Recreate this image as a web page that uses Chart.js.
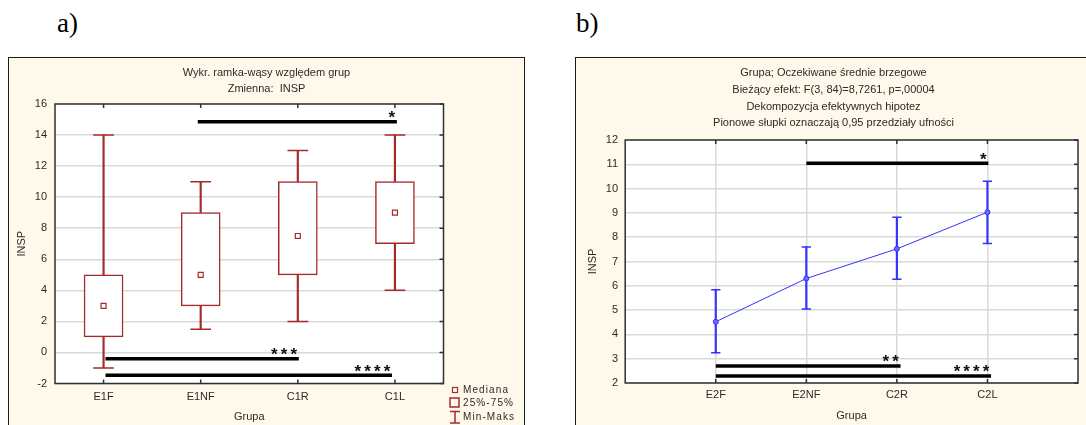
<!DOCTYPE html>
<html>
<head>
<meta charset="utf-8">
<script src="https://cdn.jsdelivr.net/npm/chart.js@4.4.1/dist/chart.umd.min.js"></script>
<style>
  body { margin: 0; width: 1086px; height: 425px; overflow: hidden; background: #fff; position: relative; }
  .lbl { position: absolute; top: 10px; font: 27px/27px "Liberation Serif", "Times New Roman", serif; color: #000; }
  .panel { position: absolute; top: 57px; width: 515px; height: 380px; border: 1px solid #1a1a1a; background: #fff9ec; }
  .panel canvas { display: block; }
</style>
</head>
<body>
<div class="lbl" style="left:57px">a)</div>
<div class="lbl" style="left:576px">b)</div>
<div class="panel" style="left:8px"><canvas id="boxChart" width="515" height="380"></canvas></div>
<div class="panel" style="left:575px"><canvas id="meanChart" width="515" height="380"></canvas></div>

<script>
const FONT = '"Liberation Sans", Arial, sans-serif';
const TEXT = '#2a2a2a';
const RED = '#a52a2a';
const BLUE = '#3333ff';
const GRID = '#d9d9d9';

// a) box & whisker per group
const groupsA = ['E1F', 'E1NF', 'C1R', 'C1L'];
const minA = [-1, 1.5, 2, 4];
const q1A = [1, 3, 5, 7];
const medianA = [3, 5, 7.5, 9];
const q3A = [5, 9, 11, 11];
const maxA = [14, 11, 13, 14];
const titleA = ['Wykr. ramka-wąsy względem grup', 'Zmienna:  INSP'];
// significance bars (group index from/to, height, stars)
const sigFromA = [0.97, 0.02, 0.02];
const sigToA = [3.02, 2.01, 2.97];
const sigYA = [14.86, -0.4, -1.47];
const sigStarsA = ['*', '***', '****'];

// b) marginal means with 0.95 CI
const groupsB = ['E2F', 'E2NF', 'C2R', 'C2L'];
const meanB = [4.52, 6.30, 7.52, 9.03];
const ciLowB = [3.24, 5.05, 6.27, 7.74];
const ciHighB = [5.84, 7.60, 8.82, 10.30];
const titleB = [
    'Grupa; Oczekiwane średnie brzegowe',
    'Bieżący efekt: F(3, 84)=8,7261, p=,00004',
    'Dekompozycja efektywnych hipotez',
    'Pionowe słupki oznaczają 0,95 przedziały ufności'
];
const sigFromB = [2.0, 1.0, 1.0];
const sigToB = [4.01, 3.04, 4.04];
const sigYB = [11.04, 2.70, 2.29];
const sigStarsB = ['*', '**', '****'];

// white plot area, frame, inner ticks, titles, stars, legend
const panelPlugin = {
    id: 'panel',
    beforeDraw(chart) {
        const { ctx, chartArea: a } = chart;
        ctx.save();
        ctx.fillStyle = '#fff';
        ctx.fillRect(a.left, a.top, a.right - a.left, a.bottom - a.top);
        ctx.restore();
    },
    afterDraw(chart, args, opts) {
        const { ctx, chartArea: a, scales: { x, y } } = chart;
        ctx.save();
        ctx.strokeStyle = '#303030';
        ctx.lineWidth = 1.5;
        ctx.strokeRect(a.left, a.top, a.right - a.left, a.bottom - a.top);

        ctx.beginPath();
        x.ticks.forEach(t => {
            const px = x.getPixelForValue(t.value);
            ctx.moveTo(px, a.top); ctx.lineTo(px, a.top + 4);
            ctx.moveTo(px, a.bottom); ctx.lineTo(px, a.bottom - 4);
        });
        y.ticks.forEach(t => {
            const py = y.getPixelForValue(t.value);
            ctx.moveTo(a.right, py); ctx.lineTo(a.right - 4, py);
        });
        ctx.stroke();

        ctx.fillStyle = TEXT;
        ctx.font = `11px ${FONT}`;
        ctx.textAlign = 'center';
        ctx.textBaseline = 'middle';
        opts.titles.forEach((t, i) => ctx.fillText(t, chart.width / 2, opts.titleTop + i * opts.titleStep));

        ctx.fillStyle = '#111';
        ctx.font = `bold 17px ${FONT}`;
        ctx.textBaseline = 'alphabetic';
        opts.sigTo.forEach((to, i) => {
            const px = x.getPixelForValue(to);
            const py = y.getPixelForValue(opts.sigY[i]);
            const n = opts.sigStars[i].length;
            for (let k = 0; k < n; k++) {
                ctx.fillText('*', px - 5 - (n - 1 - k) * 9.7, py + 1.4);
            }
        });

        if (opts.legend) {
            const lx = 441;
            ctx.strokeStyle = RED;
            ctx.fillStyle = '#fff';
            ctx.lineWidth = 1.2;
            ctx.fillRect(lx + 2.5, 329.5, 5, 5);
            ctx.strokeRect(lx + 2.5, 329.5, 5, 5);
            ctx.lineWidth = 1.5;
            ctx.strokeRect(lx, 340, 9, 9);
            ctx.beginPath();
            ctx.moveTo(lx + 5, 353.5); ctx.lineTo(lx + 5, 365);
            ctx.moveTo(lx, 353.5); ctx.lineTo(lx + 10, 353.5);
            ctx.moveTo(lx, 365); ctx.lineTo(lx + 10, 365);
            ctx.stroke();
            ctx.fillStyle = TEXT;
            ctx.font = `10px ${FONT}`;
            ctx.letterSpacing = '1.1px';
            ctx.textAlign = 'left';
            ctx.textBaseline = 'middle';
            ctx.fillText('Mediana', lx + 13, 332);
            ctx.fillText('25%-75%', lx + 13, 345);
            ctx.fillText('Min-Maks', lx + 13, 359);
        }
        ctx.restore();
    }
};

function sigLines(from, to, ys) {
    return from.map((f, i) => ({
        type: 'line',
        data: [{ x: f, y: ys[i] }, { x: to[i], y: ys[i] }],
        borderColor: '#000',
        borderWidth: 3.5,
        borderCapStyle: 'butt',
        pointRadius: 0,
        order: 0
    }));
}

function axisFont() {
    return { family: FONT, size: 11 };
}

// a) box plot
new Chart(document.getElementById('boxChart'), {
    type: 'bar',
    data: {
        datasets: [
            ...sigLines(sigFromA, sigToA, sigYA),
            {
                type: 'line',
                showLine: false,
                data: medianA.map((v, i) => ({ x: i, y: v })),
                pointStyle: 'rect',
                pointRadius: 3.5,
                pointBackgroundColor: '#fff',
                pointBorderColor: RED,
                pointBorderWidth: 1.2,
                order: 1
            },
            {
                data: q1A.map((v, i) => ({ x: i, y: [v, q3A[i]] })),
                backgroundColor: '#fff',
                borderColor: RED,
                borderWidth: 1.5,
                borderSkipped: false,
                barThickness: 39,
                grouped: false,
                order: 2
            },
            {
                type: 'line',
                showLine: false,
                data: [...minA.map((v, i) => ({ x: i, y: v })), ...maxA.map((v, i) => ({ x: i, y: v }))],
                pointStyle: 'line',
                pointRadius: 10.35,
                pointBorderColor: RED,
                pointBorderWidth: 1.5,
                order: 3
            },
            {
                data: minA.map((v, i) => ({ x: i, y: [v, maxA[i]] })),
                backgroundColor: RED,
                borderWidth: 0,
                barThickness: 1.5,
                grouped: false,
                order: 4
            }
        ]
    },
    options: {
        responsive: false,
        animation: false,
        events: [],
        layout: { padding: { top: 46, left: 0, right: 80.5, bottom: 14.5 } },
        plugins: {
            legend: { display: false },
            tooltip: { enabled: false },
            panel: {
                titles: titleA, titleTop: 14.7, titleStep: 16.3,
                sigTo: sigToA, sigY: sigYA, sigStars: sigStarsA,
                legend: true
            }
        },
        scales: {
            x: {
                type: 'linear',
                min: -0.5,
                max: 3.5,
                offset: false,
                grid: { display: false, drawTicks: false, offset: false },
                border: { display: false },
                afterBuildTicks: s => { s.ticks = groupsA.map((g, i) => ({ value: i })); },
                ticks: {
                    autoSkip: false, maxRotation: 0,
                    padding: 7.2, color: TEXT, font: axisFont(),
                    callback: v => groupsA[v] ?? ''
                },
                title: { display: true, text: 'Grupa', color: TEXT, font: axisFont(), padding: { top: 0, bottom: 0.2 } },
                afterFit: s => { s.height = 40; }
            },
            y: {
                min: -2,
                max: 16,
                grid: { color: GRID, lineWidth: 1.5, drawTicks: false },
                border: { display: false },
                ticks: { stepSize: 2, padding: 8, color: TEXT, font: axisFont() },
                title: { display: true, text: 'INSP', color: TEXT, font: axisFont(), padding: { top: 6.8, bottom: 0 } },
                afterFit: s => { s.width = 46; }
            }
        }
    },
    plugins: [panelPlugin]
});

// b) means with confidence intervals
new Chart(document.getElementById('meanChart'), {
    type: 'bar',
    data: {
        datasets: [
            ...sigLines(sigFromB, sigToB, sigYB),
            {
                type: 'line',
                data: meanB.map((v, i) => ({ x: i + 1, y: v })),
                borderColor: BLUE,
                borderWidth: 1,
                pointRadius: 2.5,
                pointBackgroundColor: '#6a6aff',
                pointBorderColor: BLUE,
                pointBorderWidth: 1,
                order: 1
            },
            {
                type: 'line',
                showLine: false,
                data: [...ciLowB.map((v, i) => ({ x: i + 1, y: v })), ...ciHighB.map((v, i) => ({ x: i + 1, y: v }))],
                pointStyle: 'line',
                pointRadius: 4.65,
                pointBorderColor: BLUE,
                pointBorderWidth: 1.5,
                order: 2
            },
            {
                data: ciLowB.map((v, i) => ({ x: i + 1, y: [v, ciHighB[i]] })),
                backgroundColor: BLUE,
                borderWidth: 0,
                barThickness: 1.5,
                grouped: false,
                order: 3
            }
        ]
    },
    options: {
        responsive: false,
        animation: false,
        events: [],
        layout: { padding: { top: 82, left: 0, right: 13, bottom: 15 } },
        plugins: {
            legend: { display: false },
            tooltip: { enabled: false },
            panel: {
                titles: titleB, titleTop: 14.7, titleStep: 16.9,
                sigTo: sigToB, sigY: sigYB, sigStars: sigStarsB,
                legend: false
            }
        },
        scales: {
            x: {
                type: 'linear',
                min: 0,
                max: 5,
                offset: false,
                grid: { color: GRID, lineWidth: 1.5, drawTicks: false, offset: false },
                border: { display: false },
                afterBuildTicks: s => { s.ticks = groupsB.map((g, i) => ({ value: i + 1 })); },
                ticks: {
                    autoSkip: false, maxRotation: 0,
                    padding: 5.1, color: TEXT, font: axisFont(),
                    callback: v => groupsB[v - 1] ?? ''
                },
                title: { display: true, text: 'Grupa', color: TEXT, font: axisFont(), padding: { top: 0, bottom: 0.4 } },
                afterFit: s => { s.height = 40; }
            },
            y: {
                min: 2,
                max: 12,
                grid: { color: GRID, lineWidth: 1.5, drawTicks: false },
                border: { display: false },
                ticks: { stepSize: 1, padding: 7.2, color: TEXT, font: axisFont() },
                title: { display: true, text: 'INSP', color: TEXT, font: axisFont(), padding: { top: 9.9, bottom: 0 } },
                afterFit: s => { s.width = 49.2; }
            }
        }
    },
    plugins: [panelPlugin]
});
</script>
</body>
</html>
